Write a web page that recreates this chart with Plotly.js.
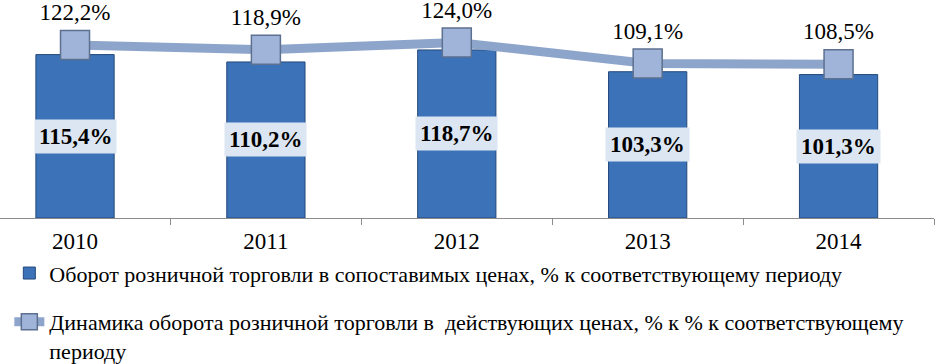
<!DOCTYPE html>
<html>
<head>
<meta charset="utf-8">
<script src="https://cdn.plot.ly/plotly-3.0.1.min.js"></script>
<style>html,body{margin:0;padding:0;background:#fff;}#chart{width:939px;height:364px;}</style>
</head>
<body>
<div id="chart"></div>
<script>
var years = ['2010', '2011', '2012', '2013', '2014'];
var comparable = [115.4, 110.2, 118.7, 103.3, 101.3];
var current = [122.2, 118.9, 124.0, 109.1, 108.5];
var barName = 'Оборот розничной торговли в сопоставимых ценах, % к соответствующему периоду';
var lineName = 'Динамика оборота розничной торговли в  действующих ценах, % к % к соответствующему<br>периоду';

(function () {
  function fmt(v) { return v.toFixed(1).replace('.', ',') + '%'; }
  var ff = 'Liberation Serif, serif';

  var traces = [
    {
      type: 'bar', x: years, y: comparable, name: barName, legendgroup: 'a',
      width: 0.41,
      marker: { color: '#3b72b8', line: { color: '#24497a', width: 1 } },
      hoverinfo: 'skip'
    },
    {
      type: 'scatter', mode: 'lines+markers+text', x: years, y: current, name: lineName, legendgroup: 'b',
      line: { color: '#8ea5cb', width: 9 },
      marker: { symbol: 'square', size: 29, color: '#9fb4d8', line: { color: '#5d7090', width: 1.5 } },
      text: current.map(fmt), textposition: 'top center',
      textfont: { family: ff, size: 23, color: '#000000' },
      cliponaxis: false, hoverinfo: 'skip'
    }
  ];

  var anns = [];
  for (var i = 0; i < years.length; i++) {
    anns.push({
      x: i, y: comparable[i] / 2, xref: 'x', yref: 'y',
      text: '<b>' + fmt(comparable[i]) + '</b>', showarrow: false,
      font: { family: ff, size: 23, color: '#000000' },
      bgcolor: '#dce6f2', borderpad: 4
    });
  }

  var layout = {
    width: 939, height: 364,
    margin: { l: 0, r: 4.5, t: 10, b: 145.5 },
    paper_bgcolor: '#ffffff', plot_bgcolor: '#ffffff',
    font: { family: ff, size: 20, color: '#000000' },
    xaxis: {
      type: 'category', range: [-0.393, 4.5],
      showline: true, linecolor: '#8c8c8c', linewidth: 1,
      ticks: 'outside', tickson: 'boundaries', ticklen: 6, tickcolor: '#8c8c8c',
      ticklabelstandoff: 2,
      tickfont: { family: ff, size: 23, color: '#000000' },
      showgrid: false, zeroline: false, fixedrange: true, automargin: false
    },
    yaxis: {
      range: [0, 146.9], showgrid: false, zeroline: false, showline: false,
      showticklabels: false, ticks: '', fixedrange: true, automargin: false
    },
    showlegend: true,
    legend: {
      xref: 'paper', yref: 'container',
      x: 0.01, xanchor: 'left', y: 0.307, yanchor: 'top',
      orientation: 'v', valign: 'top', tracegroupgap: 17,
      font: { family: ff, size: 22, color: '#000000' },
      bgcolor: 'rgba(0,0,0,0)'
    },
    annotations: anns,
    bargap: 0.59
  };

  Plotly.newPlot('chart', traces, layout, { displayModeBar: false });
})();
</script>
</body>
</html>
